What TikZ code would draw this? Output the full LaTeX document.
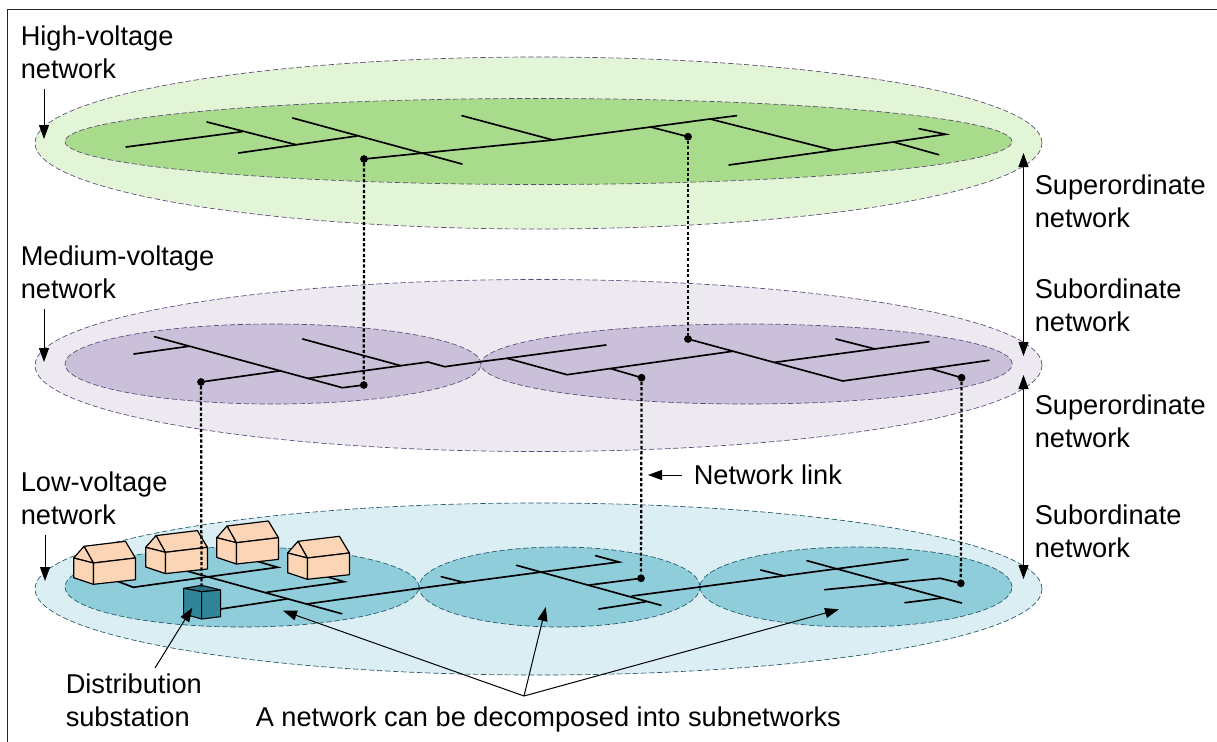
\documentclass[tikz,border=0pt]{standalone}
\usepackage{fontspec}
\setmainfont{Liberation Sans}
\usetikzlibrary{arrows.meta,shapes.geometric}
\definecolor{hiout}{HTML}{E2F5D6}
\definecolor{hiin}{HTML}{A9DB8C}
\definecolor{meout}{HTML}{ECE9F1}
\definecolor{mein}{HTML}{CAC0D9}
\definecolor{loout}{HTML}{DBEEF4}
\definecolor{loin}{HTML}{90CDDB}
\definecolor{edgeviolet}{HTML}{5F497A}
\definecolor{edgeteal}{HTML}{215868}
\definecolor{housefill}{HTML}{FBD5B5}
\definecolor{cubefill}{HTML}{31859B}
\tikzset{
  x=0.75pt,y=-0.75pt,
  zone/.style={ellipse,inner sep=0pt,outer sep=0pt,line width=0.5pt,dash pattern=on 4pt off 2pt},
  wire/.style={line width=1.25pt,line cap=round,line join=miter},
  linkdot/.style={circle,fill=black,inner sep=0pt,minimum size=5.8pt},
  netlink/.style={line width=1.7pt,dash pattern=on 2.4pt off 1.6pt},
  pointer/.style={line width=0.75pt,-{Triangle[length=10.5pt,width=7.5pt]}},
  twoway/.style={line width=0.75pt,{Triangle[length=10.5pt,width=7.5pt]}-{Triangle[length=10.5pt,width=7.5pt]}},
  caption/.style={anchor=north west,inner sep=0pt,align=left,font=\fontsize{20.4}{24.75}\selectfont},
  bldg/.style={draw=black,line width=0.9pt,line join=round,fill=housefill}
}
\newcommand{\house}[2]{%
  \begin{scope}[shift={(#1,#2)}]
    \filldraw[bldg] (10.3,-11.7) -- (51.7,-16.7) -- (61.7,0) -- (19.7,5) -- cycle;
    \filldraw[bldg] (0,0) -- (10.3,-11.7) -- (19.7,5) -- cycle;
    \filldraw[bldg] (0,0) -- (19.7,5) -- (19.7,26.3) -- (0,19.7) -- cycle;
    \filldraw[bldg] (19.7,5) -- (61.7,0) -- (61.7,21.7) -- (19.7,26.3) -- cycle;
  \end{scope}}
\begin{document}
\begin{tikzpicture}
\useasboundingbox (0,0) rectangle (1217,742);
\fill[white] (0,0) rectangle (1217,742);
\draw[line width=0.8pt,black!85] (7.5,745) -- (7.5,9.5) -- (1220,9.5);

% zones
\node[zone,draw=edgeviolet,fill=hiout,minimum width=755.25pt,minimum height=129pt] (hiouter) at (538.5,143) {};
\node[zone,draw=edgeviolet,fill=hiin,minimum width=710.25pt,minimum height=64.5pt] (hiinner) at (538.5,141.5) {};
\node[zone,draw=edgeviolet,fill=meout,minimum width=755.25pt,minimum height=129pt] (meouter) at (538.5,365.5) {};
\node[zone,draw=edgeviolet,fill=mein,minimum width=312pt,minimum height=60pt] (meleft) at (273,364) {};
\node[zone,draw=edgeviolet,fill=mein,minimum width=398.6pt,minimum height=60pt] (meright) at (746.5,364) {};
\node[zone,draw=edgeteal,fill=loout,minimum width=755.25pt,minimum height=129pt] (loouter) at (538.5,589) {};
\node[zone,draw=edgeteal,fill=loin,minimum width=265.5pt,minimum height=60pt] (loleft) at (242,587) {};
\node[zone,draw=edgeteal,fill=loin,minimum width=210.75pt,minimum height=60pt] (lomid) at (559.5,587) {};
\node[zone,draw=edgeteal,fill=loin,minimum width=234pt,minimum height=60pt] (loright) at (856,587) {};

% link end dots
\node[linkdot] (h1) at (364,159) {};
\node[linkdot] (h2) at (688,136.7) {};
\node[linkdot] (m1) at (363.8,385) {};
\node[linkdot] (m2) at (688,339) {};
\node[linkdot] (m3) at (201,382) {};
\node[linkdot] (m4) at (641.6,377.7) {};
\node[linkdot] (m5) at (961.6,377.7) {};
\node[linkdot] (l2) at (641,578.3) {};
\node[linkdot] (l3) at (960.8,583.3) {};
\coordinate (cubetop) at (201.5,588);

% high-voltage wiring
\draw[wire] (126,147) -- (242,131.7);
\draw[wire] (207,122) -- (296,144.7);
\draw[wire] (238.5,153) -- (357,136);
\draw[wire] (292.6,118) -- (462,164);
\draw[wire] (h1.center) -- (553,140) -- (650.6,127) -- (710,119) -- (736.6,115.7);
\draw[wire] (462,115.7) -- (553,140);
\draw[wire] (650.6,127) -- (h2.center);
\draw[wire] (710,119) -- (833.4,150.3);
\draw[wire] (729,165) -- (833.4,150.3) -- (893.4,142) -- (945.6,134.3) -- (919,128.7);
\draw[wire] (893.4,142) -- (938.7,154.7);

% medium-voltage wiring
\draw[wire] (133.9,354) -- (188.7,346.3);
\draw[wire] (154.5,336.7) -- (342.4,387.7) -- (m1.center);
\draw[wire] (m3.center) -- (281,370.7);
\draw[wire] (308.6,378.3) -- (400.8,365.7) -- (428,362) -- (444.7,366.7) -- (480.5,361.7) -- (507,358.3) -- (606,345);
\draw[wire] (302.7,339) -- (400.8,365.7);
\draw[wire] (507,358.3) -- (567,374.7) -- (732.5,351.3);
\draw[wire] (611,368.7) -- (m4.center);
\draw[wire] (m2.center) -- (842.7,381) -- (989,360.3);
\draw[wire] (775,362.3) -- (929,341.7);
\draw[wire] (836,339) -- (875,349);
\draw[wire] (930.7,368.7) -- (m5.center);

% low-voltage wiring
\draw[wire] (116.7,581) -- (133.3,587.3) -- (201.7,577.7) -- (277.7,567.3) -- (258.3,561.7);
\draw[wire] (186.7,571) -- (341.7,613.7);
\draw[wire] (266.7,592.3) -- (344,581.7) -- (326.7,576.7);
\draw[wire] (220.7,609) -- (286.7,599);
\draw[wire] (306.7,604) -- (419.3,588.3) -- (539.4,572.3) -- (619,562) -- (595.6,555.7);
\draw[wire] (441.3,576.7) -- (465,582.7);
\draw[wire] (516.5,565.3) -- (661,605.3);
\draw[wire] (589.6,585) -- (l2.center);
\draw[wire] (598.8,609) -- (646.2,601.7);
\draw[wire] (632,596) -- (908,559.3);
\draw[wire] (760.7,570) -- (784.5,576);
\draw[wire] (807,560.7) -- (961.6,603);
\draw[wire] (824.6,589.7) -- (940.3,578.3) -- (l3.center);
\draw[wire] (905,602.7) -- (942.3,598);

% houses
\house{73.7}{558}
\house{145.7}{547.3}
\house{216.7}{537.7}
\house{287.7}{553}

% substation
\filldraw[draw=black,line width=0.8pt,line join=round,fill=cubefill!85!black] (183.7,588.3) -- (201.7,585.3) -- (220.7,590) -- (201.7,591.7) -- cycle;
\filldraw[draw=black,line width=0.8pt,line join=round,fill=cubefill] (183.7,588.3) -- (201.7,591.7) -- (201.7,619) -- (183.7,614) -- cycle;
\filldraw[draw=black,line width=0.8pt,line join=round,fill=cubefill] (201.7,591.7) -- (220.7,590) -- (220.7,616.7) -- (201.7,619) -- cycle;

% network links
\draw[netlink] (h1) -- (m1);
\draw[netlink] (h2) -- (m2);
\draw[netlink] (m3) -- (cubetop);
\draw[netlink] (m4) -- (l2);
\draw[netlink] (m5) -- (l3);

% captions
\node[caption] (hvlabel) at (20.5,26) {High-voltage\\network};
\node[caption] (mvlabel) at (20.5,246) {Medium-voltage\\network};
\node[caption] (lvlabel) at (20.5,472) {Low-voltage\\network};
\node[caption] (sup1) at (1034.5,175) {Superordinate\\network};
\node[caption] (sub1) at (1034.5,279) {Subordinate\\network};
\node[caption] (sup2) at (1034.5,395) {Superordinate\\network};
\node[caption] (sub2) at (1034.5,505) {Subordinate\\network};
\node[caption] (linklabel) at (693.5,465) {Network link};
\node[caption] (dslabel) at (65.5,674) {Distribution\\substation};
\node[caption] (decomp) at (255.5,707) {A network can be decomposed into subnetworks};

% arrows
\coordinate (hvs) at (44,89); \coordinate (hvt) at (44,139);
\coordinate (mvs) at (44,309); \coordinate (mvt) at (44,362);
\coordinate (lvs) at (45,535); \coordinate (lvt) at (45,581);
\draw[pointer] (hvs) -- (hvt);
\draw[pointer] (mvs) -- (mvt);
\draw[pointer] (lvs) -- (lvt);
\coordinate (r1) at (1023.5,153); \coordinate (r2) at (1023.5,356);
\coordinate (r3) at (1023.5,375); \coordinate (r4) at (1023.5,579);
\draw[twoway] (r1) -- (r2);
\draw[twoway] (r3) -- (r4);
\coordinate (nls) at (682,475); \coordinate (nlt) at (648,475);
\draw[pointer] (nls) -- (nlt);
\coordinate (ds) at (155,668); \coordinate (dt) at (192.3,607.7);
\draw[pointer] (ds) -- (dt);
\coordinate (hub) at (524,696);
\coordinate (t1) at (283,610.7); \coordinate (t2) at (545.8,607); \coordinate (t3) at (839,609.3);
\draw[pointer] (hub) -- (t1);
\draw[pointer] (hub) -- (t2);
\draw[pointer] (hub) -- (t3);
\end{tikzpicture}
\end{document}
